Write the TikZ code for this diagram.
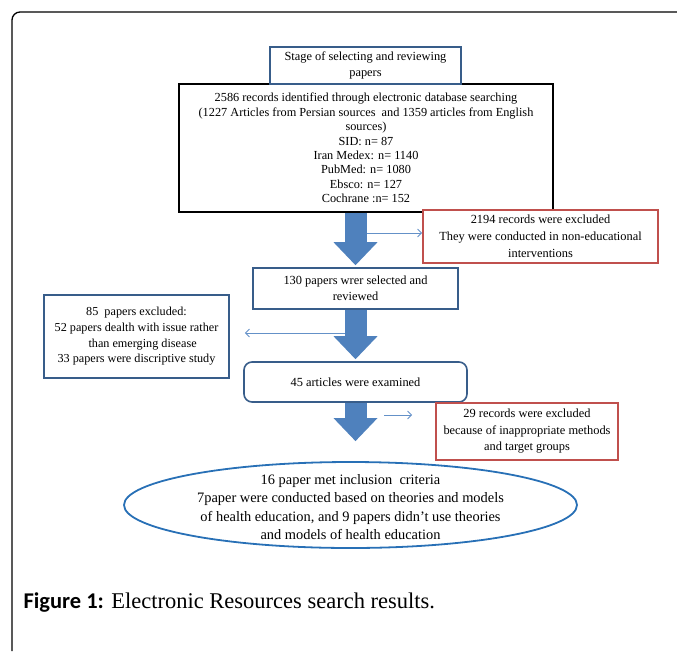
\documentclass[tikz,border=0pt]{standalone}
\usepackage{fontspec}
\setmainfont{Liberation Serif}
\newfontfamily\capsans{Carlito}
\usetikzlibrary{arrows.meta,shapes.geometric}

\definecolor{boxblue}{RGB}{56,93,138}
\definecolor{fillblue}{RGB}{79,129,189}
\definecolor{lineblue}{RGB}{100,145,200}
\definecolor{boxred}{RGB}{192,80,77}
\definecolor{ovalblue}{RGB}{40,112,182}

\begin{document}
\begin{tikzpicture}[x=1pt,y=-1pt,
  bluebox/.style={draw=boxblue,line width=1.6pt,fill=white,align=center,inner sep=0pt},
  redbox/.style={draw=boxred,line width=1.6pt,fill=white,align=center,inner sep=0pt},
  blockarrow/.style={draw=fillblue,line width=22pt,-{Triangle[width=44pt,length=23pt,line width=0pt]}},
  thinarrow/.style={draw=lineblue,line width=0.9pt,-{Straight Barb[length=4pt,width=8pt]}},
  txt/.style={font=\fontsize{12.4}{16}\selectfont}]

  \useasboundingbox (0,0) rectangle (677,651);
  \draw[line width=1.3pt,rounded corners=8pt] (12,651) -- (12,12) -- (677,12);

  \node (SRCH) at (366,148) [draw,line width=2pt,minimum width=374pt,minimum height=128pt,
    inner sep=0pt,align=center,font=\fontsize{12.3}{14.4}\selectfont]
    {2586 records identified through electronic database searching\\
     (1227 Articles from Persian sources~ and 1359 articles from English\\
     sources)\\ SID: n= 87\\ Iran Medex: n= 1140\\ PubMed: n= 1080\\
     Ebsco: n= 127\\ Cochrane :n= 152};

  \node (STAGE) at (365.5,65.5) [bluebox,txt,minimum width=191pt,minimum height=37pt]
    {Stage of selecting and reviewing\\ papers};

  \node (EXCL1) at (540.5,236.5) [redbox,minimum width=235pt,minimum height=53pt,
    font=\fontsize{12.4}{17}\selectfont]
    {2194 records were excluded\\ They were conducted in non-educational\\ interventions};

  \node (SEL) at (355.5,288.5) [bluebox,txt,minimum width=205pt,minimum height=41pt]
    {130 papers wrer selected and\\ reviewed};

  \node (EXCL2) at (136.5,336.5) [bluebox,minimum width=185pt,minimum height=83pt,
    font=\fontsize{12.2}{15.7}\selectfont]
    {85~ papers excluded:\\ 52 papers dealth with issue rather\\
     \hspace{1em}than emerging disease\\ 33 papers were discriptive study};

  \node (EXAM) at (355.5,382) [bluebox,txt,rounded corners=8pt,minimum width=223pt,minimum height=40pt]
    {45 articles were examined};

  \node (EXCL3) at (527,431.5) [redbox,minimum width=182pt,minimum height=57pt,
    font=\fontsize{12.4}{16.5}\selectfont]
    {29 records were excluded\\ because of inappropriate methods\\ and target groups};

  \node (INCL) at (350.5,505) [draw=ovalblue,line width=1.8pt,ellipse,inner sep=0pt,
    minimum width=453pt,minimum height=86pt] {};
  \node (INCLTXT) at (350.5,507) [align=center,font=\fontsize{14.4}{18.3}\selectfont]
    {16 paper met inclusion~ criteria\\
     7paper were conducted based on theories and models\\
     of health education, and 9 papers didn't use theories\\
     and models of health education};

  \draw[blockarrow,shorten >=2pt] (SEL.north |- SRCH.south) -- (SEL.north);
  \draw[blockarrow,shorten >=2pt] (SEL.south) -- (EXAM.north);
  \draw[blockarrow,shorten >=20pt] (EXAM.south) -- (EXAM.south |- INCL.north);

  \coordinate (T1) at (367,233);
  \coordinate (T2) at (345,333);
  \coordinate (T3) at (384,415);
  \draw[thinarrow] (T1) -- (T1 -| EXCL1.west);
  \draw[thinarrow,shorten >=15pt] (T2) -- (T2 -| EXCL2.east);
  \draw[thinarrow,shorten >=23pt] (T3) -- (T3 -| EXCL3.west);

  \node (CAP) at (20,603) [anchor=west,font=\fontsize{22.5}{27}\selectfont]
    {{\capsans\bfseries Figure 1:} Electronic Resources search results.};

\end{tikzpicture}
\end{document}
